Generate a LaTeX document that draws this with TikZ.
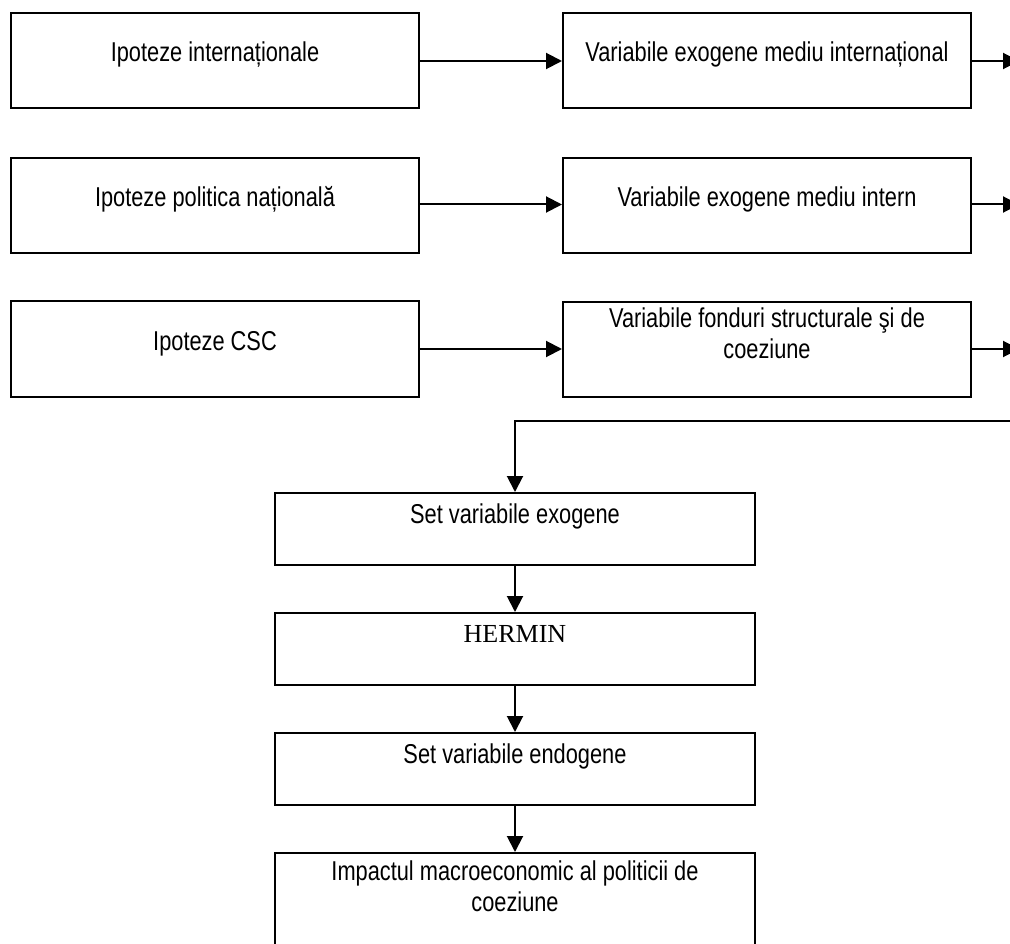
\documentclass[tikz,border=0pt]{standalone}
\usepackage{fontspec}
\setmainfont{Liberation Sans}
\newfontfamily\hermfont{Liberation Serif}
\usetikzlibrary{arrows.meta}
\newcommand{\vtxt}[1]{\scalebox{1}[1.25]{\begin{tabular}[t]{@{}c@{}}#1\end{tabular}}}
\tikzset{
  box/.style={draw, line width=2pt, inner sep=0pt, minimum height=95pt},
  sidebox/.style={box, minimum width=408pt},
  midbox/.style={box, minimum width=480pt, minimum height=72pt},
  txt/.style={anchor=base, inner sep=0pt, font=\fontsize{21.8}{25.2}\selectfont},
  conn/.style={line width=2pt, -{Triangle[length=16pt,width=16pt]}},
}
\begin{document}
\begin{tikzpicture}[x=1pt,y=-1pt]
\useasboundingbox (0,0) rectangle (1010,944);
\clip (0,0) rectangle (1010,944);
% left column
\node[sidebox] (L1) at (215,60.5) {};
\node[sidebox] (L2) at (215,205.5) {};
\node[sidebox] (L3) at (215,349) {};
% right column
\node[sidebox] (R1) at (767,61) {};
\node[sidebox] (R2) at (767,205.5) {};
\node[sidebox] (R3) at (767,349.5) {};
% middle column
\node[midbox] (C1) at (515,529) {};
\node[midbox] (C2) at (515,649) {};
\node[midbox] (C3) at (515,769) {};
\node[midbox, minimum height=110pt] (C4) at (515,908) {};
% texts
\node[txt] (tL1) at (215,62) {\vtxt{Ipoteze internaționale}};
\node[txt] (tL2) at (215,207) {\vtxt{Ipoteze politica națională}};
\node[txt] (tL3) at (215,350) {\vtxt{Ipoteze CSC}};
\node[txt] (tR1) at (767,62) {\vtxt{Variabile exogene mediu internațional}};
\node[txt] (tR2) at (767,207) {\vtxt{Variabile exogene mediu intern}};
\node[txt] (tR3) at (767,327) {\vtxt{Variabile fonduri structurale şi de\\coeziune}};
\node[txt] (tC1) at (515,523) {\vtxt{Set variabile exogene}};
\node[anchor=base, inner sep=0pt, font=\hermfont\fontsize{26}{30}\selectfont] (tC2) at (515,642) {HERMIN};
\node[txt] (tC3) at (515,763) {\vtxt{Set variabile endogene}};
\node[txt] (tC4) at (515,880) {\vtxt{Impactul macroeconomic al politicii de\\coeziune}};
% free ends
\coordinate (e1) at (1019,61);
\coordinate (e2) at (1019,204.5);
\coordinate (e3) at (1019,349);
\coordinate (fb) at (1015,421);
% connectors
\draw[conn] (L1.east |- 0,61) -- (R1.west |- 0,61);
\draw[conn] (L2.east |- 0,204.5) -- (R2.west |- 0,204.5);
\draw[conn] (L3.east |- 0,349) -- (R3.west |- 0,349);
\draw[conn] (R1.east |- e1) -- (e1);
\draw[conn] (R2.east |- e2) -- (e2);
\draw[conn] (R3.east |- e3) -- (e3);
\draw[conn] (fb) -- (C1.north |- fb) -- (C1.north);
\draw[conn] (C1.south) -- (C2.north);
\draw[conn] (C2.south) -- (C3.north);
\draw[conn] (C3.south) -- (C4.north);
\end{tikzpicture}
\end{document}
